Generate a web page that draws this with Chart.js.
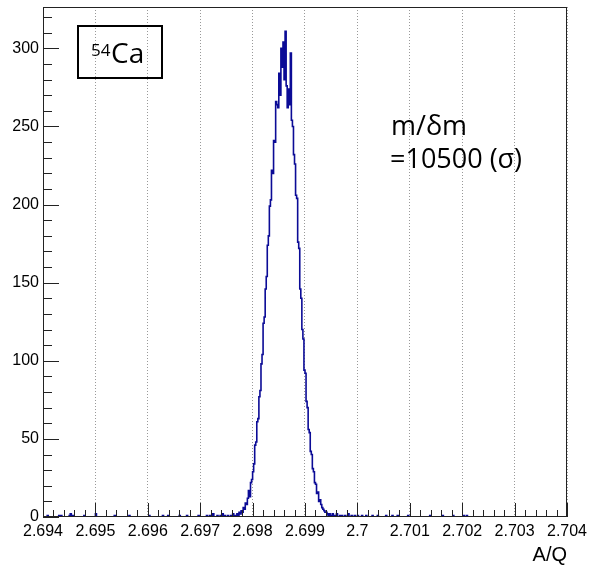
<!DOCTYPE html>
<html>
<head>
<meta charset="utf-8">
<title>54Ca A/Q</title>
<script src="https://cdn.jsdelivr.net/npm/chart.js@4.4.1/dist/chart.umd.min.js"></script>
<style>
    html, body { margin: 0; padding: 0; background: #fff; }
    #wrap { width: 591px; height: 569px; position: relative; }
</style>
</head>
<body>
<div id="wrap"><canvas id="aq"></canvas></div>
<script>
// histogram binning (A/Q)
const xMin = 2.694;
const xMax = 2.704;
const binWidth = 0.00002;
const yMax = 326.5;

// counts of the peak region, bins start at coreStart
const coreStart = 2.6975;
const coreCounts = [
    0, 1, 0, 0, 1, 0, 2, 1, 0, 1,
    2, 1, 3, 2, 4, 3, 6, 5, 9, 8,
    12, 17, 13, 22, 24, 29, 34, 46, 48, 61,
    63, 77, 81, 98, 104, 124, 128, 146, 154, 174,
    180, 199, 203, 222, 220, 241, 240, 266, 264, 262,
    284, 270, 300, 288, 304, 280, 311, 276, 262, 274,
    264, 297, 254, 250, 232, 226, 206, 204, 176, 172,
    146, 140, 120, 114, 94, 92, 74, 70, 56, 54,
    42, 40, 31, 29, 22, 21, 15, 16, 10, 11,
    8, 6, 5, 4, 3, 3, 2, 1, 2, 1
];

// isolated counts in the tails
const tailAQ = [
    2.69408, 2.69431, 2.69434, 2.69450, 2.69453, 2.69457, 2.69478, 2.69501,
    2.69537, 2.69564, 2.69602, 2.69629, 2.69639, 2.69660, 2.69675, 2.69696,
    2.69713, 2.69719, 2.69725, 2.69732, 2.69738, 2.69742, 2.69747,
    2.69953, 2.69957, 2.69961, 2.69967, 2.69971, 2.69976, 2.69982, 2.69988,
    2.69995, 2.70001, 2.70009, 2.70016, 2.70028, 2.70039, 2.70055, 2.70066,
    2.70077, 2.70097, 2.70139, 2.70163, 2.70182, 2.70203, 2.70208
];
const tailCounts = [
    1, 1, 1, 1, 2, 1, 1, 2,
    1, 1, 1, 1, 1, 1, 1, 1,
    1, 1, 2, 1, 1, 2, 1,
    2, 1, 2, 1, 1, 1, 2, 1,
    1, 1, 1, 1, 1, 1, 1, 1,
    1, 1, 1, 1, 1, 1, 1
];

const xLabelStep = 0.001;
const xMinorStep = 0.0002;
const yLabelStep = 50;
const yMinorStep = 10;

function buildHistogram() {
    const nBins = Math.round((xMax - xMin) / binWidth);
    const counts = new Array(nBins).fill(0);
    const coreIdx = Math.round((coreStart - xMin) / binWidth);
    coreCounts.forEach((c, i) => { counts[coreIdx + i] = c; });
    tailAQ.forEach((v, i) => {
        const k = Math.floor((v - xMin) / binWidth + 1e-6);
        counts[k] += tailCounts[i];
    });
    const pts = counts.map((c, i) => ({ x: xMin + i * binWidth, y: c }));
    pts.push({ x: xMax, y: 0 });
    return pts;
}

const rootStyle = {
    id: 'rootStyle',
    afterDraw(chart) {
        const { ctx, chartArea: a, scales: { x, y } } = chart;
        ctx.save();

        // tick marks inside the frame
        ctx.strokeStyle = '#222';
        ctx.lineWidth = 1;
        ctx.beginPath();
        const nx = Math.round((xMax - xMin) / xMinorStep);
        for (let k = 0; k <= nx; k++) {
            const px = Math.round(x.getPixelForValue(xMin + k * xMinorStep)) + 0.5;
            const len = k % 5 === 0 ? 14 : 7;
            ctx.moveTo(px, a.bottom);
            ctx.lineTo(px, a.bottom - len);
        }
        for (let v = 0; v <= yMax; v += yMinorStep) {
            const py = Math.round(y.getPixelForValue(v)) + 0.5;
            const len = v % yLabelStep === 0 ? 16 : 9;
            ctx.moveTo(a.left, py);
            ctx.lineTo(a.left + len, py);
        }
        ctx.stroke();

        // frame
        ctx.strokeStyle = '#222';
        ctx.strokeRect(a.left + 0.5, a.top + 0.5, a.right - a.left - 1, a.bottom - a.top - 1);

        // isotope label box
        ctx.lineWidth = 2;
        ctx.strokeStyle = '#000';
        ctx.strokeRect(78, 26, 84, 52);
        ctx.fillStyle = '#000';
        ctx.textBaseline = 'alphabetic';
        ctx.textAlign = 'left';
        ctx.font = '17px "Open Sans"';
        ctx.fillText('54', 91, 56);
        ctx.font = '28px "Open Sans"';
        ctx.fillText('Ca', 111, 63);

        // resolution text
        ctx.font = '27px "Open Sans"';
        ctx.fillText('m/δm', 391, 135);
        ctx.fillText('=10500 (σ)', 390, 168);
        ctx.restore();
    }
};

const config = {
    type: 'line',
    data: {
        datasets: [{
            data: buildHistogram(),
            stepped: true,
            borderColor: '#0b0b96',
            borderWidth: 1.6,
            pointRadius: 0,
            fill: false,
            tension: 0
        }]
    },
    options: {
        responsive: true,
        maintainAspectRatio: false,
        animation: false,
        devicePixelRatio: 1,
        layout: { padding: { top: 7, right: 24, left: 0, bottom: 0 } },
        plugins: {
            legend: { display: false },
            tooltip: { enabled: false }
        },
        events: [],
        scales: {
            x: {
                type: 'linear',
                min: xMin,
                max: xMax,
                afterFit: (s) => {
                    s.height = 52;
                    s.paddingLeft = 0;
                    s.paddingRight = 0;
                },
                ticks: {
                    stepSize: xLabelStep,
                    includeBounds: false,
                    autoSkip: false,
                    maxRotation: 0,
                    padding: 5,
                    color: '#000',
                    font: { family: 'Liberation Sans', size: 16 },
                    callback: (v) => parseFloat(Number(v).toFixed(3)).toString()
                },
                grid: { color: '#999', lineWidth: 1, drawTicks: false },
                border: { display: false, dash: [1, 2] },
                title: {
                    display: true,
                    text: 'A/Q',
                    align: 'end',
                    color: '#000',
                    font: { family: 'Liberation Sans', size: 20 },
                    padding: { top: 0, bottom: 2 }
                }
            },
            y: {
                min: 0,
                max: yMax,
                afterFit: (s) => {
                    s.width = 43;
                    s.paddingTop = 0;
                    s.paddingBottom = 0;
                },
                ticks: {
                    stepSize: yLabelStep,
                    includeBounds: false,
                    padding: 4,
                    color: '#000',
                    font: { family: 'Liberation Sans', size: 16 }
                },
                grid: { display: false, drawTicks: false },
                border: { display: false }
            }
        }
    },
    plugins: [rootStyle]
};

window.onload = () => {
    new Chart(document.getElementById('aq'), config);
};
</script>
</body>
</html>
